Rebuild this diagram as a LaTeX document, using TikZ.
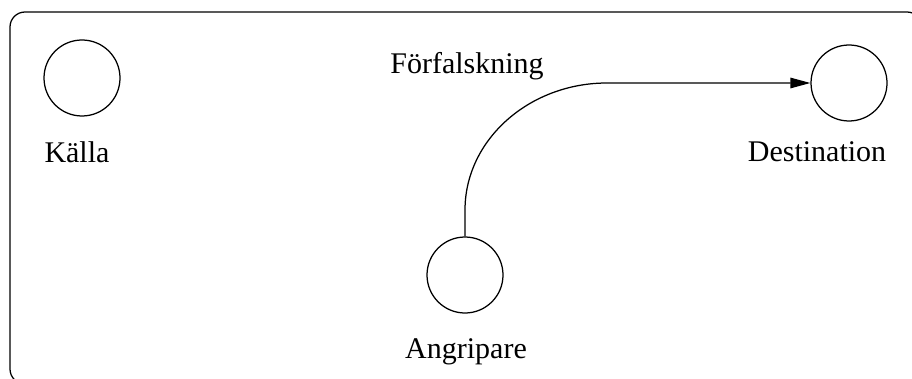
\documentclass[tikz,border=0pt]{standalone}
\usepackage{fontspec}
\setmainfont{Liberation Serif}
\usetikzlibrary{arrows.meta}
\tikzset{
  frame/.style={draw=black,line width=0.5pt,rounded corners=6pt},
  party/.style={circle,draw=black,line width=0.5pt,minimum size=30.4pt,inner sep=0pt},
  partytext/.style={text=black,font=\fontsize{12}{14}\selectfont,align=center},
  attack/.style={-{Triangle[length=8pt,width=4.2pt]},draw=black,line width=0.5pt}
}
\begin{document}
\begin{tikzpicture}[x=0.4pt,y=-0.4pt]
  \path[use as bounding box] (0,0) rectangle (912,379);

  % Outer frame, cut off at the right and bottom.
  \begin{scope}
    \clip (0,0) rectangle (912,379);
    \draw[frame] (10,12) rectangle (922,384);
  \end{scope}

  % The three parties.
  \node[party] (source) at (82,78) {};
  \node[partytext] (sourcename) at (77,152) {Källa};

  \node[party] (dest) at (849,83) {};
  \node[partytext] (destname) at (817,152) {Destination};

  \node[party] (attacker) at (465,275) {};
  \node[partytext] (attackername) at (466,352) {Angripare};

  % Forged message from the attacker.
  \coordinate (rise) at (465,210);
  \coordinate (bend) at (607,83);
  \draw[attack] (attacker.north) -- (rise) .. controls (465,140) and (529,83) .. (bend) -- (dest.west);
  \node[partytext] (forgery) at (467,66) {Förfalskning};
\end{tikzpicture}
\end{document}
